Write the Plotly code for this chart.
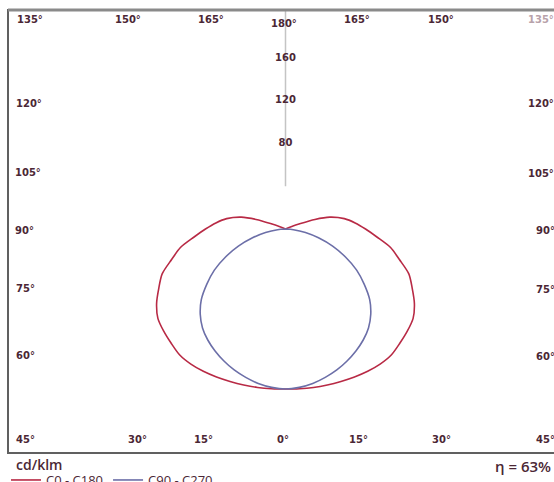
import plotly.graph_objects as go

# ---------------- data (cd/klm) ----------------
gamma = [0, 5, 10, 15, 20, 25, 30, 35, 40, 45, 50, 55, 60, 65, 70, 75, 80, 85, 90,
         95, 100, 105, 108, 110, 112, 115, 120, 135, 150, 165, 180]
c0_c180 = [150, 150.3, 150.8, 151.3, 152, 153, 154, 154.6, 154.2, 151.5, 149, 146, 139.5,
           131, 123, 110.5, 100, 86, 75, 65.5, 56, 43, 29, 15, 5, 0, 0, 0, 0, 0, 0]
c90_c270 = [150, 149, 147, 144, 140.6, 136.5, 132, 127, 121, 113, 103, 90, 77,
            62, 47, 32, 19, 7.5, 0, 0, 0, 0, 0, 0, 0, 0, 0, 0, 0, 0, 0]
ring_values = [80, 120, 160]
ring_labels = ["80", "120", "160"]
axis_span = [40, 206]
series_names = ["C0 - C180", "C90 - C270"]
unit_label = "cd/klm"
efficiency_label = "η = 63%"

# edge angle labels: (text, x px, y px)
top_labels = [("135°", 30, 20), ("150°", 128, 20), ("165°", 211, 20), ("180°", 284, 23),
              ("165°", 357, 20), ("150°", 441, 20)]
left_labels = [("120°", 29, 103), ("105°", 28, 172), ("90°", 24, 230),
               ("75°", 25, 288), ("60°", 25, 355), ("45°", 25, 439)]
right_labels = [("120°", 541, 103), ("105°", 541, 173), ("90°", 545, 230),
                ("75°", 545, 289), ("60°", 545, 356), ("45°", 545, 439)]
bottom_labels = [("30°", 137, 439), ("15°", 203, 439), ("0°", 283, 439),
                 ("15°", 358, 439), ("30°", 441, 439)]

W, H = 554, 482
OX, OY = 285.5, 229.0      # origin in pixels
K = 1.067                  # px per cd/klm
R = 220                    # polar radius in px

TXT = "#4b2735"
RED = "#b82a45"
BLUE = "#6c6fa8"
LBL_FONT = dict(family="DejaVu Sans", size=10, color=TXT, weight="bold")


def full_curve(vals):
    th = [-g for g in reversed(gamma)] + gamma[1:]
    r = list(reversed(vals)) + vals[1:]
    return th, r


fig = go.Figure()

# vertical axis segment (up direction)
fig.add_trace(go.Scatterpolar(theta=[180, 180], r=axis_span, mode="lines",
                              line=dict(color="#c4c4c4", width=1.5),
                              showlegend=False, hoverinfo="skip"))

th, r = full_curve(c0_c180)
fig.add_trace(go.Scatterpolar(theta=th, r=r, mode="lines", name=series_names[0],
                              line=dict(color=RED, width=1.6, shape="spline", smoothing=0.8)))
th, r = full_curve(c90_c270)
fig.add_trace(go.Scatterpolar(theta=th, r=r, mode="lines", name=series_names[1],
                              line=dict(color=BLUE, width=1.6, shape="spline", smoothing=0.8)))

fig.add_trace(go.Scatterpolar(theta=[180] * len(ring_values), r=ring_values, mode="text",
                              text=ring_labels, textposition="middle center",
                              textfont=LBL_FONT,
                              showlegend=False, hoverinfo="skip", cliponaxis=False))

fig.update_layout(
    width=W, height=H, autosize=False,
    margin=dict(l=0, r=0, t=0, b=0, autoexpand=False),
    paper_bgcolor="white",
    polar=dict(
        domain=dict(x=[(OX - R) / W, (OX + R) / W], y=[(H - OY - R) / H, (H - OY + R) / H]),
        bgcolor="rgba(0,0,0,0)",
        angularaxis=dict(rotation=-90, direction="counterclockwise", showgrid=False,
                         showline=False, showticklabels=False, ticks=""),
        radialaxis=dict(range=[0, R / K], visible=False, showgrid=False),
    ),
    showlegend=True,
    legend=dict(orientation="h", x=6 / W, xanchor="left", y=-0.027, yanchor="bottom",
                font=dict(family="Open Sans", size=13, color=TXT), bgcolor="rgba(0,0,0,0)",
                itemwidth=30, tracegroupgap=0),
)


def P(x, y):
    return x / W, 1 - y / H


annos = []
for lst in (top_labels, left_labels, right_labels, bottom_labels):
    for t, x, y in lst:
        px, py = P(x, y)
        annos.append(dict(x=px, y=py, xref="paper", yref="paper", text=t, showarrow=False,
                          xanchor="center", yanchor="middle", font=LBL_FONT))
px, py = P(541, 20)
annos.append(dict(x=px, y=py, xref="paper", yref="paper", text="135°", showarrow=False,
                  xanchor="center", yanchor="middle",
                  font=dict(family="DejaVu Sans", size=10, color="#b8a2aa", weight="bold")))
px, py = P(14, 464)
annos.append(dict(x=px, y=py, xref="paper", yref="paper", text=unit_label, showarrow=False,
                  xanchor="left", yanchor="middle",
                  font=dict(family="Open Sans", size=14, color=TXT, weight=600)))
px, py = P(553, 466)
annos.append(dict(x=px, y=py, xref="paper", yref="paper", text=efficiency_label, showarrow=False,
                  xanchor="right", yanchor="middle",
                  font=dict(family="Open Sans", size=15, color=TXT, weight=600)))
fig.update_layout(annotations=annos)

# frame
shapes = [
    dict(type="rect", xref="paper", yref="paper", x0=8 / W, x1=1.02, y0=1 - 10 / H, y1=1 - 453 / H,
         line=dict(color="#606060", width=2), fillcolor="rgba(0,0,0,0)", layer="above"),
    dict(type="line", xref="paper", yref="paper", x0=8 / W, x1=1, y0=1 - 10 / H, y1=1 - 10 / H,
         line=dict(color="#8a8a8a", width=3), layer="above"),
]
fig.update_layout(shapes=shapes)

fig.write_html("out.html",
               config=dict(responsive=False, displayModeBar=False),
               post_script="document.body.style.margin='0';document.body.style.overflow='hidden';")
